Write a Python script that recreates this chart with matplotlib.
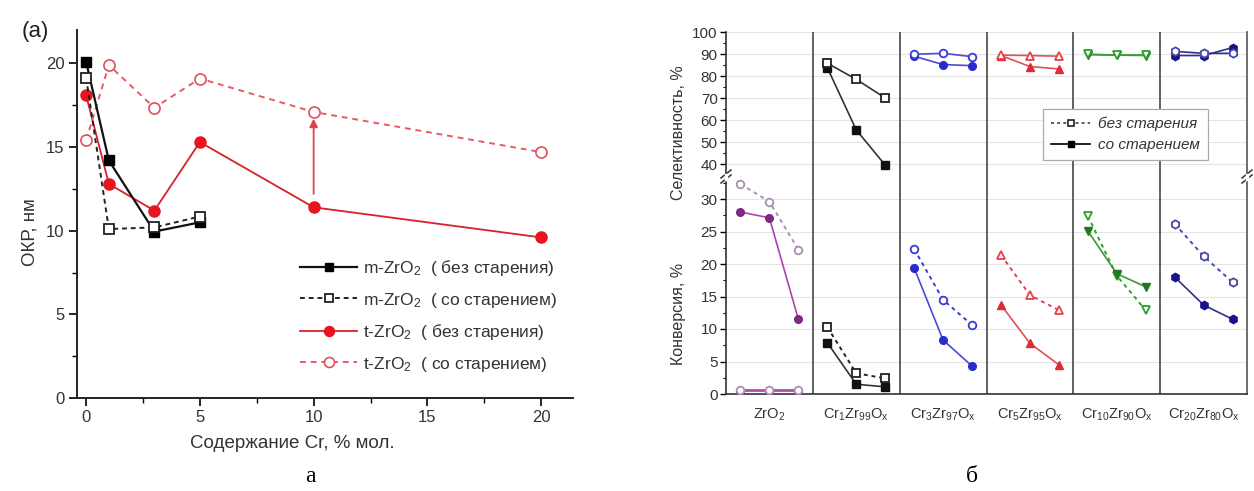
import matplotlib
matplotlib.use("Agg")
import matplotlib.pyplot as plt
from matplotlib.ticker import MultipleLocator
from matplotlib.lines import Line2D

plt.rcParams["font.family"] = ["Liberation Sans", "DejaVu Sans"]
plt.rcParams["mathtext.fontset"] = "custom"
plt.rcParams["mathtext.rm"] = "Liberation Sans"
plt.rcParams["mathtext.it"] = "Liberation Sans:italic"

# ---------------- panel (a): crystallite size vs Cr content ----------------
cr_m = [0, 1, 3, 5]
m_fresh = [20.1, 14.2, 9.95, 10.5]
m_aged = [19.15, 10.1, 10.2, 10.85]
cr_t = [0, 1, 3, 5, 10, 20]
t_fresh = [18.1, 12.8, 11.2, 15.3, 11.4, 9.6]
t_aged = [15.4, 19.9, 17.35, 19.1, 17.1, 14.7]
arrow_x = 10
arrow_from = 12.2
arrow_to = 16.7
legend_a = [
    "m-ZrO$\\mathregular{_2}$  ( без старения)",
    "m-ZrO$\\mathregular{_2}$  ( со старением)",
    "t-ZrO$\\mathregular{_2}$  ( без старения)",
    "t-ZrO$\\mathregular{_2}$  ( со старением)",
]

# ---------------- panel (б): selectivity / conversion ----------------
catalysts = [
    "ZrO$\\mathregular{_2}$",
    "Cr$\\mathregular{_1}$Zr$\\mathregular{_{99}}$O$\\mathregular{_x}$",
    "Cr$\\mathregular{_3}$Zr$\\mathregular{_{97}}$O$\\mathregular{_x}$",
    "Cr$\\mathregular{_5}$Zr$\\mathregular{_{95}}$O$\\mathregular{_x}$",
    "Cr$\\mathregular{_{10}}$Zr$\\mathregular{_{90}}$O$\\mathregular{_x}$",
    "Cr$\\mathregular{_{20}}$Zr$\\mathregular{_{80}}$O$\\mathregular{_x}$",
]
sel_fresh = [
    [0.6, 0.6, 0.6],
    [85.8, 78.5, 70.0],
    [89.9, 90.3, 88.8],
    [89.5, 89.3, 89.0],
    [89.9, 89.5, 89.5],
    [91.2, 90.3, 90.3],
]
sel_aged = [
    [0.4, 0.4, 0.4],
    [83.8, 55.5, 39.5],
    [89.0, 85.2, 84.7],
    [89.3, 84.3, 83.2],
    [89.7, 89.5, 89.3],
    [89.3, 89.3, 92.9],
]
conv_fresh = [
    [32.3, 29.6, 22.2],
    [10.3, 3.2, 2.4],
    [22.3, 14.5, 10.6],
    [21.4, 15.2, 12.9],
    [27.4, 18.2, 12.9],
    [26.2, 21.2, 17.2],
]
conv_aged = [
    [28.0, 27.1, 11.5],
    [7.9, 1.5, 1.1],
    [19.4, 8.3, 4.3],
    [13.7, 7.8, 4.5],
    [25.1, 18.5, 16.5],
    [18.0, 13.7, 11.5],
]
markers = ["o", "s", "o", "^", "v", "h"]
col_open = ["#a890b0", "#222222", "#3a3ad8", "#e8404a", "#2ea02e", "#4a4aa8"]
col_fill = ["#7a2a80", "#111111", "#2a2ad0", "#e02a35", "#1f7a1f", "#14148c"]
line_fill = ["#b040b0", "#333333", "#4a4ad8", "#e05058", "#3a9a3a", "#303090"]

W, H = 1254, 491
fig = plt.figure(figsize=(W / 100, H / 100), dpi=100)

def fx(px):
    return px / W

def fy(py):
    return 1 - py / H

# ======= panel (a) =======
ax = fig.add_axes([fx(77), fy(398), fx(573) - fx(77), fy(30) - fy(398)])
red = "#e8141e"
ax.plot(cr_m, m_fresh, "-", color="#111111", lw=1.6, marker="s", ms=7,
        mfc="#000000", mec="#000000", label=legend_a[0], zorder=4)
ax.plot(cr_m, m_aged, color="#222222", lw=1.4, ls=(0, (2.5, 2)), marker="s", ms=7,
        mfc="white", mec="#222222", mew=1.3, label=legend_a[1], zorder=4)
ax.plot(cr_t, t_fresh, "-", color="#d8202a", lw=1.3, marker="o", ms=8,
        mfc=red, mec=red, label=legend_a[2], zorder=3)
ax.plot(cr_t, t_aged, color="#e85a64", lw=1.4, ls=(0, (3, 2.5)), marker="o", ms=8,
        mfc="white", mec="#e0505a", mew=1.2, label=legend_a[3], zorder=3)
ax.annotate("", xy=(arrow_x, arrow_to), xytext=(arrow_x, arrow_from),
            arrowprops=dict(arrowstyle="-|>", color="#e0404a", lw=1.3,
                            mutation_scale=12, shrinkA=0, shrinkB=0))

ax.set_xlim(-0.4, 21.4)
ax.set_ylim(0, 22)
ax.xaxis.set_major_locator(MultipleLocator(5))
ax.xaxis.set_minor_locator(MultipleLocator(2.5))
ax.yaxis.set_major_locator(MultipleLocator(5))
ax.yaxis.set_minor_locator(MultipleLocator(2.5))
ax.tick_params(which="major", direction="out", length=6, width=1.2,
               labelsize=12, labelcolor="#333333", pad=3)
ax.tick_params(which="minor", direction="out", length=3.5, width=1.0)
for s in ("top", "right"):
    ax.spines[s].set_visible(False)
for s in ("left", "bottom"):
    ax.spines[s].set_linewidth(1.4)
    ax.spines[s].set_color("#222222")

leg = ax.legend(loc="upper left", bbox_to_anchor=(fx(300), fy(258)),
                bbox_transform=fig.transFigure, frameon=False, fontsize=12.5,
                handlelength=3.3, handletextpad=0.35, labelspacing=0.72,
                borderaxespad=0, borderpad=0, markerscale=0.9)
for t in leg.get_texts():
    t.set_color("#333333")

fig.text(fx(35), fy(32), "(a)", fontsize=16, ha="center", va="center", color="#222222")
fig.text(fx(30), fy(232), "ОКР, нм", fontsize=13.5, rotation=90,
         ha="center", va="center", color="#333333")
fig.text(fx(292), fy(443), "Содержание Cr, % мол.", fontsize=13.5,
         ha="center", va="center", color="#333333")
fig.text(fx(310), fy(476), "а", fontsize=17, ha="center", va="center",
         family="Liberation Serif")

# ======= panel (б) =======
left_px, right_px = 726, 1247
split_px, top_px, bot_px = 177, 32, 394
ax_hi = fig.add_axes([fx(left_px), fy(split_px), fx(right_px) - fx(left_px),
                      fy(top_px) - fy(split_px)])
ax_lo = fig.add_axes([fx(left_px), fy(bot_px), fx(right_px) - fx(left_px),
                      fy(split_px) - fy(bot_px)])
ax_hi.set_ylim(100 - (split_px - top_px) / 2.2, 100)
ax_lo.set_ylim(0, (bot_px - split_px) / 6.5)

for a in (ax_hi, ax_lo):
    a.set_xlim(-0.5, 17.5)
    a.grid(axis="y", color="#e4e4e4", lw=0.8, zorder=0)
    a.set_axisbelow(True)
    for b in (2.5, 5.5, 8.5, 11.5, 14.5):
        a.axvline(b, color="#555555", lw=1.3, zorder=1)
    for g in range(6):
        xs = [3 * g, 3 * g + 1, 3 * g + 2]
        mk = markers[g]
        ms = 5.5 if mk != "h" else 6
        # selectivity
        a.plot(xs, sel_aged[g], "-", color=line_fill[g], lw=1.2, marker=mk, ms=ms,
               mfc=col_fill[g], mec=col_fill[g], zorder=3)
        a.plot(xs, sel_fresh[g], "-", color=line_fill[g], lw=1.2, marker=mk, ms=ms,
               mfc="white", mec=col_open[g], mew=1.3, zorder=4)
        # conversion
        a.plot(xs, conv_fresh[g], color=col_open[g], lw=1.4, ls=(0, (2, 2)),
               marker=mk, ms=ms, mfc="white", mec=col_open[g], mew=1.3, zorder=3)
        a.plot(xs, conv_aged[g], "-", color=line_fill[g], lw=1.2, marker=mk, ms=ms,
               mfc=col_fill[g], mec=col_fill[g], zorder=4)
    a.spines["right"].set_color("#555555")
    a.spines["left"].set_color("#333333")
    a.spines["left"].set_linewidth(1.2)
    a.spines["right"].set_linewidth(1.2)
    a.tick_params(axis="y", which="major", direction="out", length=4, width=1.0,
                  labelsize=11, labelcolor="#333333", pad=2, right=False)
    a.tick_params(axis="y", which="minor", direction="out", length=2.5, width=0.8,
                  right=False)

ax_hi.spines["top"].set_visible(False)
ax_hi.spines["bottom"].set_visible(False)
ax_lo.spines["top"].set_visible(False)
ax_lo.spines["bottom"].set_color("#333333")
ax_lo.spines["bottom"].set_linewidth(1.2)
ax_hi.set_xticks([])
ax_hi.yaxis.set_major_locator(MultipleLocator(10))
ax_hi.yaxis.set_minor_locator(MultipleLocator(5))
ax_hi.set_yticks([40, 50, 60, 70, 80, 90, 100])
ax_lo.yaxis.set_major_locator(MultipleLocator(5))
ax_lo.yaxis.set_minor_locator(MultipleLocator(2.5))
ax_lo.set_xticks([1, 4, 7, 10, 13, 16])
ax_lo.set_xticklabels(catalysts)
ax_lo.tick_params(axis="x", length=0, labelsize=10.5, labelcolor="#333333", pad=9)

# axis break marks on both vertical spines
for xp in (left_px, right_px):
    for dy in (-3, 2):
        fig.add_artist(Line2D([fx(xp - 5), fx(xp + 5)],
                              [fy(split_px + dy + 4), fy(split_px + dy - 4)],
                              color="#333333", lw=1.1))
    fig.add_artist(Line2D([fx(xp), fx(xp)], [fy(split_px + 2), fy(split_px - 2)],
                          color="white", lw=2.5))

handles = [
    Line2D([], [], color="#333333", lw=1.1, ls=(0, (2, 2)), marker="s", ms=5,
           mfc="white", mec="#222222", mew=1.2),
    Line2D([], [], color="#111111", lw=1.3, marker="s", ms=5, mfc="#000000",
           mec="#000000"),
]
leg2 = ax_hi.legend(handles, ["без старения", "со старением"], loc="upper left",
                    bbox_to_anchor=(fx(1043), fy(109)), bbox_transform=fig.transFigure,
                    borderaxespad=0, fontsize=11, handlelength=2.6,
                    handletextpad=0.5, labelspacing=0.45, borderpad=0.5,
                    fancybox=False, framealpha=1, edgecolor="#aaaaaa")
leg2.get_frame().set_linewidth(0.9)
leg2.set_zorder(10)
for t in leg2.get_texts():
    t.set_fontstyle("italic")
    t.set_color("#333333")

fig.text(fx(678), fy(133), "Селективность, %", fontsize=11.5, rotation=90,
         ha="center", va="center", color="#333333")
fig.text(fx(678), fy(314), "Конверсия, %", fontsize=11.5, rotation=90,
         ha="center", va="center", color="#333333")
fig.text(fx(972), fy(476), "б", fontsize=17, ha="center", va="center",
         family="Liberation Serif")

fig.savefig("out.png", dpi=100, facecolor="white")
